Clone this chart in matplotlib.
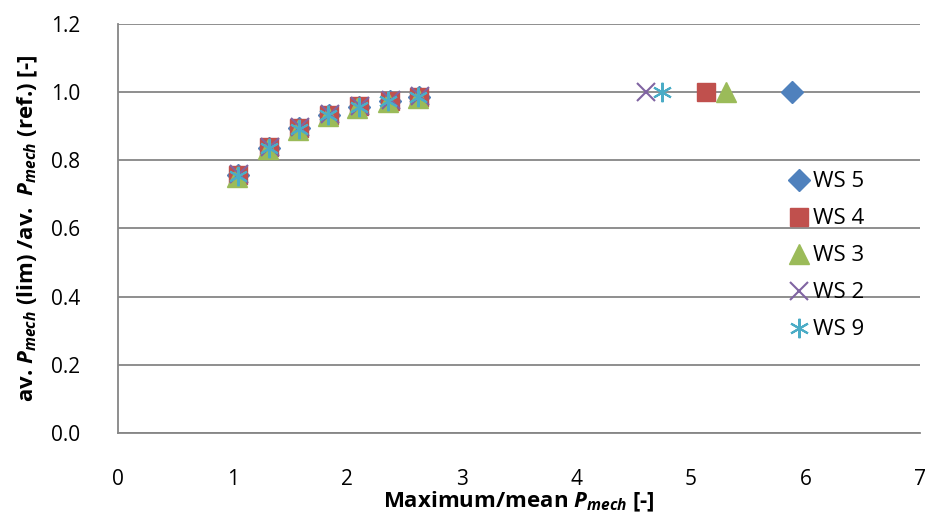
import matplotlib
matplotlib.use("Agg")
import matplotlib.pyplot as plt

# data
ws5_x = [1.05, 1.32, 1.58, 1.84, 2.10, 2.37, 2.63, 5.88]
ws5_y = [0.757, 0.836, 0.894, 0.933, 0.957, 0.974, 0.985, 1.000]
ws4_x = [1.05, 1.32, 1.58, 1.84, 2.10, 2.37, 2.63, 5.13]
ws4_y = [0.757, 0.838, 0.895, 0.934, 0.958, 0.975, 0.986, 1.000]
ws3_x = [1.04, 1.31, 1.57, 1.83, 2.09, 2.36, 2.62, 5.31]
ws3_y = [0.752, 0.832, 0.890, 0.930, 0.954, 0.972, 0.983, 1.000]
ws2_x = [1.06, 1.33, 1.59, 1.85, 2.11, 2.38, 2.64, 4.61]
ws2_y = [0.760, 0.840, 0.897, 0.936, 0.960, 0.977, 0.988, 1.000]
ws9_x = [1.05, 1.32, 1.58, 1.83, 2.10, 2.36, 2.62, 4.75]
ws9_y = [0.755, 0.836, 0.893, 0.932, 0.957, 0.974, 0.985, 1.000]

plt.rcParams['font.family'] = ['Open Sans', 'DejaVu Sans']
plt.rcParams['mathtext.fontset'] = 'custom'
plt.rcParams['mathtext.it'] = 'Open Sans:italic:bold'
plt.rcParams['mathtext.rm'] = 'Open Sans:bold'

fig = plt.figure(figsize=(9.25, 5.18), dpi=100)
ax = fig.add_axes([0.1276, 0.164, 0.867, 0.79])

ax.plot(ws5_x, ws5_y, ls='none', marker='D', ms=11, color='#4F81BD', label='WS 5')
ax.plot(ws4_x, ws4_y, ls='none', marker='s', ms=13, color='#C0504D', label='WS 4')
ax.plot(ws3_x, ws3_y, ls='none', marker='^', ms=14, color='#9BBB59', label='WS 3')
ax.plot(ws2_x, ws2_y, ls='none', marker='x', ms=13, mew=1.5, color='#8064A2', label='WS 2')
ax.plot(ws9_x, ws9_y, ls='none', marker=(6, 2, 0), ms=14, mew=1.5, color='#4BACC6', label='WS 9')

ax.set_xlim(0, 7)
ax.set_ylim(0, 1.2)
ax.set_xticks(range(0, 8))
ax.set_yticks([0, 0.2, 0.4, 0.6, 0.8, 1.0, 1.2])
ax.set_yticklabels(['%.1f' % v for v in [0, 0.2, 0.4, 0.6, 0.8, 1.0, 1.2]])
ax.tick_params(length=0, labelsize=15, colors='black')
ax.tick_params(axis='x', pad=26)
ax.tick_params(axis='y', pad=27)

ax.grid(axis='y', color='#868686', lw=1.3)
ax.set_axisbelow(True)
for s in ['top', 'right']:
    ax.spines[s].set_visible(False)
for s in ['left', 'bottom']:
    ax.spines[s].set_color('#868686')
    ax.spines[s].set_linewidth(1.3)

ax.set_xlabel(r'Maximum/mean $P_{mech}$ [-]', fontsize=16, fontweight='bold', labelpad=0)
ax.set_ylabel(r'av. $P_{mech}$ (lim) /av.  $P_{mech}$ (ref.) [-]', fontsize=16,
              fontweight='bold', labelpad=8)

ax.legend(loc='center left', bbox_to_anchor=(0.822, 0.433), frameon=False, fontsize=16,
          borderpad=0, handletextpad=0.1, labelspacing=0.72, handlelength=1.0)

fig.savefig('out.png', dpi=100)
